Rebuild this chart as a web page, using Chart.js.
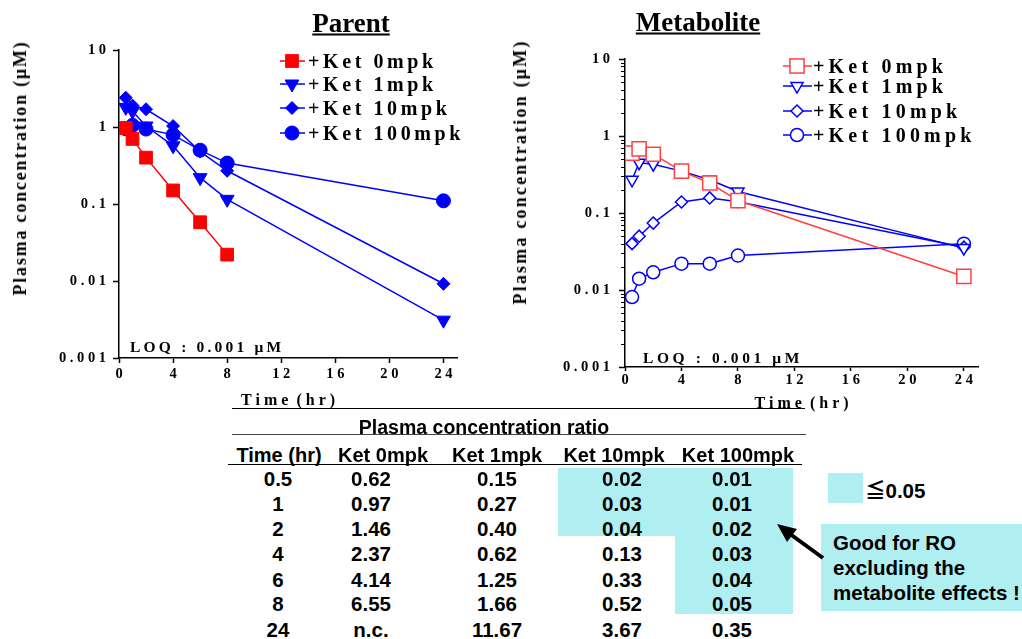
<!DOCTYPE html>
<html>
<head>
<meta charset="utf-8">
<script src="https://cdn.jsdelivr.net/npm/chart.js@4.4.1/dist/chart.umd.min.js"></script>
<style>
  html, body { margin: 0; padding: 0; background: #fff; }
  #page { position: relative; width: 1022px; height: 639px; overflow: hidden; }
  canvas { position: absolute; }
  .abs { position: absolute; white-space: nowrap; line-height: 1; color: #000; }
  .serif { font-family: 'Liberation Serif', 'Times New Roman', serif; font-weight: bold; }
  .sans { font-family: 'Liberation Sans', Arial, sans-serif; font-weight: bold; }
  .c { transform: translate(-50%, -50%); }
  .vc { transform: translateY(-50%); }
  .hline { position: absolute; height: 0; }
  .cyan { position: absolute; background: #b0eff1; }
  .cjk { font-family: 'Noto Sans CJK JP', sans-serif; font-weight: bold; }
</style>
</head>
<body>
<div id="page">
  <canvas id="parentChart" width="480" height="415" style="left:0;top:0"></canvas>
  <canvas id="metaboliteChart" width="500" height="420" style="left:500px;top:0"></canvas>
  <div id="overlay"></div>
</div>
<script>
// sampling times (hr)
const times = [0.5, 1, 2, 4, 6, 8, 24];
const seriesNames = ['+Ket 0mpk', '+Ket 1mpk', '+Ket 10mpk', '+Ket 100mpk'];

// parent plasma concentration (uM)
const parent0 = [0.97, 0.70, 0.40, 0.15, 0.058, 0.022, null];
const parent1 = [1.8, 1.6, 1.03, 0.57, 0.22, 0.115, 0.0031];
const parent10 = [2.4, 1.9, 1.7, 1.03, 0.48, 0.27, 0.0092];
const parent100 = [0.95, 1.05, 0.94, 0.79, 0.50, 0.34, 0.11];

// metabolite plasma concentration (uM)
const metab0 = [0.60, 0.68, 0.58, 0.35, 0.245, 0.145, 0.015];
const metab1 = [0.27, 0.45, 0.43, 0.35, 0.27, 0.19, 0.035];
const metab10 = [0.040, 0.050, 0.074, 0.139, 0.157, 0.14, 0.036];
const metab100 = [0.0081, 0.014, 0.017, 0.022, 0.022, 0.028, 0.040];

const xTickValues = [0, 4, 8, 12, 16, 20, 24];
const yTickValues = [0.001, 0.01, 0.1, 1, 10];
const yTickLabels = ['0.001', '0.01', '0.1', '1', '10'];

// ratio table
const tableTitle = 'Plasma concentration ratio';
const tableHeaders = ['Time (hr)', 'Ket 0mpk', 'Ket 1mpk', 'Ket 10mpk', 'Ket 100mpk'];
const ratioTimes = ['0.5', '1', '2', '4', '6', '8', '24'];
const ratio0 = ['0.62', '0.97', '1.46', '2.37', '4.14', '6.55', 'n.c.'];
const ratio1 = ['0.15', '0.27', '0.40', '0.62', '1.25', '1.66', '11.67'];
const ratio10 = ['0.02', '0.03', '0.04', '0.13', '0.33', '0.52', '3.67'];
const ratio100 = ['0.01', '0.01', '0.02', '0.03', '0.04', '0.05', '0.35'];

const SERIF = "'Liberation Serif', 'Times New Roman', serif";
const RED = '#ff0000';
const RED_LIGHT = '#ff4040';
const BLUE = '#0000ff';

const spaced = (s) => String(s).split('').join(' ');

function toPoints(values) {
    return times.map((t, i) => ({ x: t, y: values[i] })).filter((p) => p.y != null);
}

const minorTicks = {
    id: 'minorTicks',
    afterDraw(chart, args, opts) {
        if (!opts || !opts.show) return;
        const y = chart.scales.y;
        const ctx = chart.ctx;
        ctx.save();
        ctx.strokeStyle = '#000';
        ctx.lineWidth = 1;
        [0.001, 0.01, 0.1, 1].forEach((d) => {
            for (let k = 2; k < 10; k++) {
                const py = Math.round(y.getPixelForValue(d * k)) + 0.5;
                ctx.beginPath();
                ctx.moveTo(y.right, py);
                ctx.lineTo(y.right - 4, py);
                ctx.stroke();
            }
        });
        ctx.restore();
    },
};

function makeChart(canvas, seriesList, styles, layout) {
    const datasets = seriesList.map((vals, i) => {
        const st = styles[i];
        return {
            label: seriesNames[i],
            data: toPoints(vals),
            borderColor: st.color,
            borderWidth: 1.5,
            pointStyle: st.shape,
            pointRotation: st.rotation || 0,
            pointRadius: st.r,
            pointBorderWidth: st.filled ? 1 : 1.5,
            pointBackgroundColor: st.filled ? st.color : '#fff',
            pointBorderColor: st.color,
            tension: 0,
            fill: false,
        };
    });

    return new Chart(canvas, {
        type: 'line',
        data: { datasets },
        plugins: [minorTicks],
        options: {
            responsive: false,
            animation: false,
            layout: { padding: { top: layout.top, right: layout.right, left: 0, bottom: 0 } },
            plugins: {
                legend: { display: false },
                tooltip: { enabled: false },
                minorTicks: { show: layout.minor },
            },
            scales: {
                x: {
                    type: 'linear',
                    min: 0,
                    max: 25,
                    afterBuildTicks: (s) => { s.ticks = xTickValues.map((v) => ({ value: v })); },
                    afterFit: (s) => { s.height = layout.xHeight; },
                    ticks: {
                        autoSkip: false,
                        maxRotation: 0,
                        padding: layout.xPad,
                        color: '#000',
                        font: { family: SERIF, weight: 'bold', size: 14.5 },
                        callback: (v) => spaced(v),
                    },
                    grid: { drawOnChartArea: false, drawTicks: true, tickLength: layout.xTick, tickColor: '#000', tickWidth: 1.5 },
                    border: { display: true, color: '#000', width: 1.5 },
                    title: {
                        display: true,
                        text: 'T i m e  ( h r )',
                        color: '#000',
                        font: { family: SERIF, weight: 'bold', size: 16 },
                        padding: { top: 0, bottom: layout.titlePad },
                    },
                },
                y: {
                    type: 'logarithmic',
                    min: 0.001,
                    max: 10,
                    afterBuildTicks: (s) => { s.ticks = yTickValues.map((v) => ({ value: v })); },
                    afterFit: (s) => { s.width = layout.yWidth; },
                    ticks: {
                        autoSkip: false,
                        padding: layout.yPad,
                        color: '#000',
                        font: { family: SERIF, weight: 'bold', size: 14.5 },
                        callback: (v) => {
                            const i = yTickValues.findIndex((t) => Math.abs(t - v) / t < 1e-6);
                            return i >= 0 ? spaced(yTickLabels[i]) : '';
                        },
                    },
                    grid: { drawOnChartArea: false, drawTicks: true, tickLength: 6, tickColor: '#000', tickWidth: 1.5 },
                    border: { display: true, color: '#000', width: 1.5 },
                },
            },
        },
    });
}

const parentStyles = [
    { color: RED, shape: 'rect', r: 9, filled: true },
    { color: BLUE, shape: 'triangle', rotation: 180, r: 8, filled: true },
    { color: BLUE, shape: 'rectRot', r: 6.5, filled: true },
    { color: BLUE, shape: 'circle', r: 7, filled: true },
];
const metabStyles = [
    { color: RED_LIGHT, shape: 'rect', r: 10, filled: false },
    { color: BLUE, shape: 'triangle', rotation: 180, r: 7, filled: false },
    { color: BLUE, shape: 'rectRot', r: 6, filled: false },
    { color: BLUE, shape: 'circle', r: 6.5, filled: false },
];

makeChart(document.getElementById('parentChart'),
    [parent0, parent1, parent10, parent100], parentStyles,
    { top: 50, right: 23, yWidth: 119, xHeight: 57, xTick: 5, xPad: 3, yPad: 7, titlePad: 4.4, minor: false });

makeChart(document.getElementById('metaboliteChart'),
    [metab0, metab1, metab10, metab100], metabStyles,
    { top: 59, right: 22, yWidth: 125, xHeight: 53, xTick: 4, xPad: 1, yPad: 9, titlePad: 7, minor: true });

// ---- overlay text, legends, table ----
const overlay = document.getElementById('overlay');

function addDiv(cls, style, html) {
    const d = document.createElement('div');
    d.className = cls;
    d.setAttribute('style', style);
    if (html != null) d.innerHTML = html;
    overlay.appendChild(d);
    return d;
}

function markerSvg(st, w, mx) {
    const fill = st.filled ? st.color : '#fff';
    const sw = st.filled ? 1 : 1.5;
    const cy = 9;
    let shape = '';
    if (st.shape === 'rect') {
        const h = st.r * Math.SQRT1_2;
        shape = `<rect x="${mx - h}" y="${cy - h}" width="${2 * h}" height="${2 * h}" fill="${fill}" stroke="${st.color}" stroke-width="${sw}"/>`;
    } else if (st.shape === 'triangle') {
        const r = st.r;
        const dx = r * Math.sin(Math.PI / 3);
        shape = `<polygon points="${mx - dx},${cy - r / 2} ${mx + dx},${cy - r / 2} ${mx},${cy + r}" fill="${fill}" stroke="${st.color}" stroke-width="${sw}"/>`;
    } else if (st.shape === 'rectRot') {
        const r = st.r;
        shape = `<polygon points="${mx},${cy - r} ${mx + r},${cy} ${mx},${cy + r} ${mx - r},${cy}" fill="${fill}" stroke="${st.color}" stroke-width="${sw}"/>`;
    } else {
        shape = `<circle cx="${mx}" cy="${cy}" r="${st.r}" fill="${fill}" stroke="${st.color}" stroke-width="${sw}"/>`;
    }
    return `<svg width="${w}" height="18" style="overflow:visible"><line x1="0" y1="${cy}" x2="${w}" y2="${cy}" stroke="${st.color}" stroke-width="1.5"/>${shape}</svg>`;
}

function addLegend(styles, x0, w, mx, textX, rows, spacing) {
    styles.forEach((st, i) => {
        addDiv('abs', `left:${x0}px;top:${rows[i] - 9}px;`, markerSvg(st, w, mx));
        addDiv('abs serif vc', `left:${textX}px;top:${rows[i]}px;font-size:20px;letter-spacing:${spacing}px;`, seriesNames[i]);
    });
}

addLegend(parentStyles, 280, 25, 12, 308, [61, 84, 108, 133], 3.6);
addLegend(metabStyles, 783, 29, 14, 813, [66, 86, 111, 135], 4.2);

// chart titles
addDiv('abs serif c', 'left:351px;top:23px;font-size:27px;text-decoration:underline;', 'Parent');
addDiv('abs serif c', 'left:698px;top:22px;font-size:27px;text-decoration:underline;', 'Metabolite');

// y axis titles
const yTitle = 'Plasma concentration (μM)';
addDiv('abs serif', 'left:20px;top:168px;font-size:18px;letter-spacing:1.8px;transform:translate(-50%,-50%) rotate(-90deg);', yTitle);
addDiv('abs serif', 'left:520px;top:172px;font-size:18px;letter-spacing:2.2px;transform:translate(-50%,-50%) rotate(-90deg);', yTitle);

// LOQ notes
addDiv('abs serif vc', 'left:130px;top:347px;font-size:15.5px;letter-spacing:3.2px;', 'LOQ : 0.001 μM');
addDiv('abs serif vc', 'left:643px;top:358px;font-size:15.5px;letter-spacing:3.6px;', 'LOQ : 0.001 μM');

// highlight areas
addDiv('cyan', 'left:558px;top:468px;width:235px;height:68px;');
addDiv('cyan', 'left:675px;top:536px;width:118px;height:78px;');
addDiv('cyan', 'left:828px;top:473px;width:35px;height:30px;');
addDiv('cyan', 'left:821px;top:524px;width:201px;height:87px;');

// rules
addDiv('hline', 'left:232px;top:408px;width:573px;border-top:1.5px solid #000;');
addDiv('hline', 'left:232px;top:434px;width:574px;border-top:1.5px solid #444;');
addDiv('hline', 'left:228px;top:464px;width:574px;border-top:1.5px solid #000;');

// table
addDiv('abs sans c', 'left:484px;top:428px;font-size:19.5px;', tableTitle);
const headerX = [279, 383, 497, 614, 738];
const colX = [278, 371, 497, 622, 732];
const rowY = [479, 504, 529, 554, 580, 604, 630];
tableHeaders.forEach((h, j) => addDiv('abs sans c', `left:${headerX[j]}px;top:455px;font-size:20px;`, h));
const columns = [ratioTimes, ratio0, ratio1, ratio10, ratio100];
columns.forEach((col, j) => {
    col.forEach((v, i) => addDiv('abs sans c', `left:${colX[j]}px;top:${rowY[i]}px;font-size:20.5px;`, v));
});

// key and note
addDiv('abs sans vc', 'left:865px;top:490px;font-size:20.5px;', '<span class="cjk">≦</span>0.05');
['Good for RO', 'excluding the', 'metabolite effects !'].forEach((t, i) => {
    addDiv('abs sans vc', `left:833px;top:${543 + i * 25}px;font-size:20.5px;`, t);
});
addDiv('abs', 'left:0;top:0;',
    '<svg width="1022" height="639" style="position:absolute;left:0;top:0">' +
    '<line x1="823" y1="558" x2="786" y2="531" stroke="#000" stroke-width="4"/>' +
    '<polygon points="777,524 797,529 787,542" fill="#000"/></svg>');
</script>
</body>
</html>
